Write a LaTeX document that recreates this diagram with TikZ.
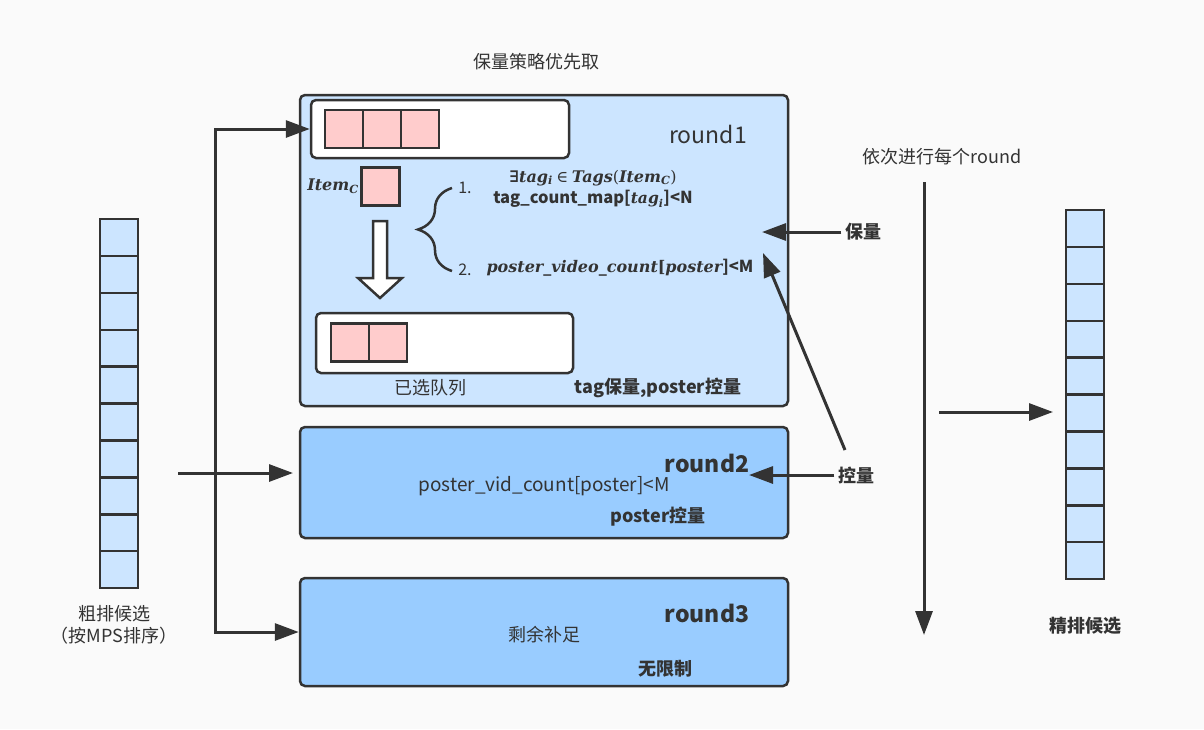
\documentclass[tikz,border=0pt]{standalone}
\usepackage{fontspec}
\setmainfont{Noto Sans CJK SC}
\newfontfamily\formfont{DejaVu Serif}
\usetikzlibrary{arrows.meta,positioning,decorations.pathreplacing}

\definecolor{lineg}{HTML}{333333}
\definecolor{paleblue}{HTML}{CCE5FF}
\definecolor{midblue}{HTML}{99CCFF}
\definecolor{pinkcell}{HTML}{FFCCCC}
\definecolor{bg}{HTML}{FAFAFA}

\newcommand{\fv}[1]{{\formfont\bfseries\itshape #1}}
\newcommand{\fsub}[1]{\textsubscript{\fv{#1}}}

\tikzstyle{roundbox}=[draw=lineg,line width=2.5pt,rounded corners=5pt,minimum width=488pt,inner sep=0pt]
\tikzstyle{queue}=[draw=lineg,line width=2.5pt,fill=white,rounded corners=5pt,inner sep=0pt]
\tikzstyle{cell}=[draw=lineg,line width=2.5pt,fill=pinkcell,minimum size=38pt,inner sep=0pt]
\tikzstyle{qcell}=[draw=lineg,line width=2.5pt,fill=paleblue,minimum width=38pt,minimum height=36.9pt,inner sep=0pt]
\tikzstyle{link}=[draw=lineg,line width=3pt,-{Triangle[length=24pt,width=17pt]}]
\tikzstyle{title}=[font=\fontsize{23}{26}\selectfont]
\tikzstyle{boldtitle}=[font=\bfseries\fontsize{23}{26}\selectfont]
\tikzstyle{note}=[font=\bfseries\fontsize{18}{22}\selectfont]
\tikzstyle{formula}=[font=\fontsize{16}{19}\selectfont]
\tikzstyle{boldformula}=[font=\bfseries\fontsize{16.5}{19}\selectfont]

\begin{document}
\begin{tikzpicture}[x=1pt, y=-1pt, font=\fontsize{18}{22}\selectfont, text=lineg]
    \fill[bg] (0,0) rectangle (1204,729);
    \useasboundingbox (0,0) rectangle (1204,729);
    % First we draw the three rounds
    \foreach \pos/\name/\h/\col in {{(544,250.5)/round1/311/paleblue}, {(544,482.5)/round2/111/midblue}, {(544,632)/round3/108/midblue}}
        \node[roundbox, fill=\col, minimum height=\h pt] (\name) at \pos {};
    % Queues and items inside round1
    \node[queue, minimum width=258pt, minimum height=58pt] (pick) at (440,129) {};
    \node[queue, minimum width=257pt, minimum height=60pt] (chosen) at (444.5,343) {};
    \foreach \pos/\name in {{(344,129)/p1}, {(382,129)/p2}, {(420,129)/p3}, {(350,342.5)/c1}, {(388,342.5)/c2}, {(380.5,186.5)/item}}
        \node[cell] (\name) at \pos {};
    \draw[lineg, line width=2.5pt, fill=white, line join=miter] (373,221) -- (387,221) -- (387,278) -- (402,278) -- (380,298) -- (358,278) -- (373,278) -- cycle;
    \draw[lineg, line width=2.5pt, decorate, decoration={brace, amplitude=34pt}] (452,271) -- (452,188);
    % Coarse and fine candidate lists
    \foreach \i in {0,...,9} {
        \node[qcell] (coarse\i) at (119, 237.5+36.9*\i) {};
        \node[qcell] (fine\i) at (1085, 228.5+36.9*\i) {};
    }
    % Texts
    \node (policy) at (536,62) {保量策略优先取};
    \node[title] at (708,134) {round1};
    \node[boldtitle] at (707,463) {round2};
    \node[boldtitle] at (707,613) {round3};
    \node[font=\fontsize{16}{20}\selectfont] (itemlabel) at (333,186) {\fv{Item}\fsub{C}};
    \node[formula] (n1) at (465,188) {1.};
    \node[formula] (n2) at (465,270) {2.};
    \node[font=\fontsize{16}{20}\selectfont] (cond1a) at (593,178) {{\formfont\bfseries ∃}\fv{tag}\fsub{i} {\formfont ∈} \fv{Tags}{\formfont(}\fv{Item}\fsub{C}{\formfont)}};
    \node[boldformula] (cond1b) at (593,199) {tag\_count\_map[{\fontsize{15.5}{19}\selectfont\fv{tag}\fsub{i}}]<N};
    \node[boldformula] (cond2) at (620,268) {{\fontsize{16}{19}\selectfont\fv{poster\_video\_count}{\formfont[}\fv{poster}}]<M};
    \node (chosenlabel) at (430,388) {已选队列};
    \node[note] (rule1) at (658,388) {tag保量,poster控量};
    \node[font=\fontsize{19}{22}\selectfont] (cond3) at (544,486) {poster\_vid\_count[poster]<M};
    \node[note] (rule2) at (658,517) {poster控量};
    \node (fill3) at (544,635) {剩余补足};
    \node[note] (rule3) at (665,669) {无限制};
    \node[note] (keep) at (863,232) {保量};
    \node[note] (ctrl) at (856,475) {控量};
    \node (seq) at (942,157) {依次进行每个round};
    \node[align=center] (coarselabel) at (114,625) {粗排候选\\（按MPS排序）};
    \node[note] (finelabel) at (1085,626) {精排候选};
    % Connectors
    \coordinate (fork) at (215,380);
    \coordinate (feed) at (178,473);
    \coordinate (feedEnd) at (293,473);
    \coordinate (keepEnd) at (762,232);
    \coordinate (ctrlStart) at (845,450);
    \coordinate (ctrlEnd) at (763,253);
    \coordinate (ctrl2End) at (749,475);
    \coordinate (seqTop) at (924,182);
    \coordinate (seqEnd) at (924,635);
    \coordinate (outStart) at (939,412);
    \coordinate (outEnd) at (1053,412);
    \path[link] (fork) |- (pick.west);
    \path[link] (fork) |- (round3.west);
    \path[link] (feed) -- (feedEnd);
    \path[link] (keep.west) -- (keepEnd);
    \path[link] (ctrlStart) -- (ctrlEnd);
    \path[link] (ctrl.west) -- (ctrl2End);
    \path[link] (seqTop) -- (seqEnd);
    \path[link] (outStart) -- (outEnd);
\end{tikzpicture}
\end{document}
